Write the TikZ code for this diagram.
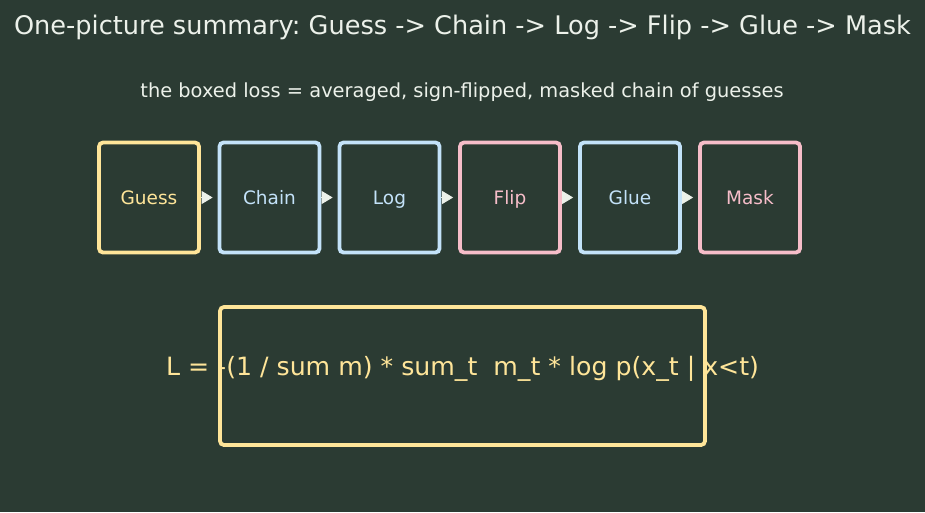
\documentclass[tikz,border=0pt]{standalone}
\usepackage{fontspec}
\setmainfont{DejaVu Sans}
\usetikzlibrary{arrows.meta}
\newlength{\du}
\setlength{\du}{1pt}
\definecolor{bgcolor}{rgb}{0.169, 0.231, 0.200}
\definecolor{titlecolor}{rgb}{0.925, 0.945, 0.918}
\definecolor{yellowline}{rgb}{1.000, 0.898, 0.600}
\definecolor{blueline}{rgb}{0.765, 0.886, 0.976}
\definecolor{pinkline}{rgb}{0.965, 0.741, 0.788}
\frenchspacing

\begin{document}
\begin{tikzpicture}[x=\du,y=-\du,
  stagebox/.style={draw, line width=3.8pt, rounded corners=4pt, inner sep=0pt,
    minimum width=100\du, minimum height=110\du, text height=13pt, text depth=0pt,
    font=\fontsize{18.5}{22}\selectfont},
  lossbox/.style={draw=yellowline, line width=3.8pt, rounded corners=4pt, inner sep=0pt,
    minimum width=485\du, minimum height=138\du},
  flow/.style={draw=titlecolor, line width=1pt, shorten >=5pt,
    -{Triangle[length=11pt,width=13pt]}}]
\fill[bgcolor] (0,0) rectangle (925,512);
\useasboundingbox (0,0) rectangle (925,512);
% title lines
\node[anchor=base, text=titlecolor, font=\fontsize{25.6}{30}\selectfont] (title) at (462.5,34)
  {One-picture summary: Guess -> Chain -> Log -> Flip -> Glue -> Mask};
\node[anchor=base, text=titlecolor, font=\fontsize{19.4}{23}\selectfont] (subtitle) at (462,97)
  {the boxed loss = averaged, sign-flipped, masked chain of guesses};
% the six stages
\node[stagebox, draw=yellowline, text=yellowline] (guess) at (149,197.5) {Guess};
\node[stagebox, draw=blueline, text=blueline] (chain) at (269.5,197.5) {Chain};
\node[stagebox, draw=blueline, text=blueline] (logstage) at (389.5,197.5) {Log};
\node[stagebox, draw=pinkline, text=pinkline] (flip) at (510,197.5) {Flip};
\node[stagebox, draw=blueline, text=blueline] (glue) at (630,197.5) {Glue};
\node[stagebox, draw=pinkline, text=pinkline] (mask) at (750,197.5) {Mask};
\draw[flow] (guess.east) -- (chain.west);
\draw[flow] (chain.east) -- (logstage.west);
\draw[flow] (logstage.east) -- (flip.west);
\draw[flow] (flip.east) -- (glue.west);
\draw[flow] (glue.east) -- (mask.west);
% boxed loss, text first so the frame sits on top
\node[anchor=base, text=yellowline, font=\fontsize{25.2}{30}\selectfont] (formula) at (462.5,375)
  {L = -(1 / sum m) * sum\_t\ \ m\_t * log p(x\_t | x<t)};
\node[lossbox] (lossframe) at (462.5,376) {};
\end{tikzpicture}
\end{document}
